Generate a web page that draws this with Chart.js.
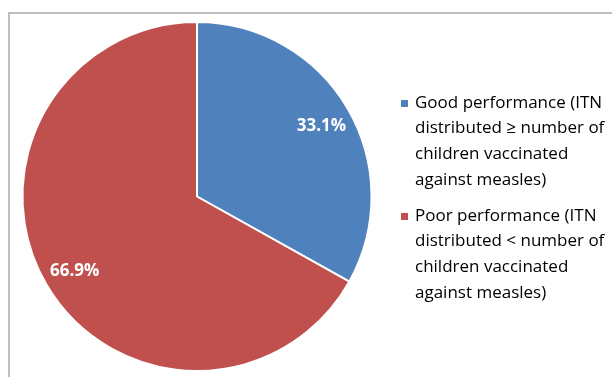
<!DOCTYPE html>
<html><head><meta charset="utf-8">
<script src="https://cdn.jsdelivr.net/npm/chart.js@4/dist/chart.umd.min.js"></script>
<style>html,body{margin:0;padding:0;background:#fff}#wrap{width:612px;height:377px;position:relative}</style>
</head><body><div id="wrap"><canvas id="c" width="612" height="377"></canvas></div>
<script>
const categories = [
  ["Good performance (ITN", "distributed \u2265 number of", "children vaccinated", "against measles)"],
  ["Poor performance (ITN", "distributed < number of", "children vaccinated", "against measles)"]
];
const values = [33.1, 66.9];
const valueLabels = ["33.1%", "66.9%"];
const colors = ["#4F81BD", "#C0504D"];

const frame = {
  id: 'frame',
  beforeDraw(chart) {
    const ctx = chart.ctx;
    ctx.save();
    ctx.fillStyle = '#fff';
    ctx.fillRect(0, 0, chart.width, chart.height);
    ctx.strokeStyle = '#BFBFBF';
    ctx.lineWidth = 2;
    ctx.strokeRect(9, 13, 800, 600);
    ctx.restore();
  }
};

const labelsPlugin = {
  id: 'sliceLabels',
  afterDatasetsDraw(chart) {
    const ctx = chart.ctx;
    const meta = chart.getDatasetMeta(0);
    ctx.save();
    ctx.fillStyle = '#fff';
    ctx.font = 'bold 17px "Open Sans", sans-serif';
    ctx.textAlign = 'center';
    ctx.textBaseline = 'middle';
    meta.data.forEach((arc, i) => {
      const p = arc.getProps(['x','y','startAngle','endAngle','outerRadius'], true);
      const mid = (p.startAngle + p.endAngle) / 2;
      const r = p.outerRadius * 0.82;
      ctx.fillText(valueLabels[i], p.x + Math.cos(mid) * r + 1, p.y + Math.sin(mid) * r + 2);
    });
    ctx.restore();
  }
};

const legendPlugin = {
  id: 'sideLegend',
  afterDraw(chart) {
    const ctx = chart.ctx;
    ctx.save();
    ctx.font = '17px "Open Sans", sans-serif';
    ctx.textBaseline = 'middle';
    ctx.textAlign = 'left';
    const startY = [103, 216];
    const lh = 25.6;
    categories.forEach((lines, i) => {
      ctx.fillStyle = colors[i];
      ctx.fillRect(401, startY[i] - 3, 7, 7);
      ctx.fillStyle = '#000';
      lines.forEach((t, j) => ctx.fillText(t, 415, startY[i] + j * lh));
    });
    ctx.restore();
  }
};

new Chart(document.getElementById('c'), {
  type: 'pie',
  data: {
    labels: categories.map(l => l.join(' ')),
    datasets: [{
      data: values,
      backgroundColor: colors,
      borderColor: '#fff',
      borderWidth: 2
    }]
  },
  options: {
    responsive: false,
    animation: false,
    devicePixelRatio: 1,
    layout: { padding: { left: 21, top: 21, right: 239, bottom: 5 } },
    plugins: { legend: { display: false }, tooltip: { enabled: false } }
  },
  plugins: [frame, labelsPlugin, legendPlugin]
});
</script>
</body></html>
